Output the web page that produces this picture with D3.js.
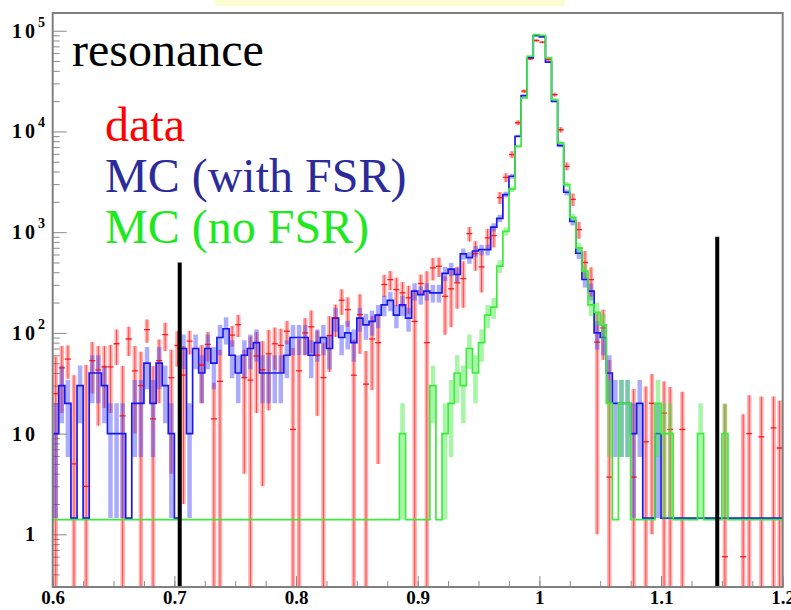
<!DOCTYPE html>
<html>
<head>
<meta charset="utf-8">
<script src="https://cdn.jsdelivr.net/npm/d3@7"></script>
<style>
body { margin: 0; background: #fff; }
svg { display: block; }
</style>
</head>
<body>
<div id="chart"></div>
<script>
// histogram binning: 120 bins of 0.005 from 0.6
const binStart = 0.6;
const binWidth = 0.005;

// MC with FSR (blue), events per bin
const mcFsr = [
  10, 30, 20, 0, 30, 0, 40, 40, 30, 10,
  10, 10, 0, 20, 20, 50, 20, 50, 30, 10,
  0, 70, 10, 70, 40, 70, 50, 90, 110, 60,
  40, 60, 70, 80, 40, 40, 40, 40, 60, 90,
  90, 90, 60, 80, 90, 70, 140, 90, 100, 80,
  140, 120, 130, 150, 190, 210, 150, 190, 140, 260,
  240, 260, 250, 250, 390, 430, 380, 610, 560, 650,
  670, 670, 1120, 1370, 2360, 3590, 8960, 22700, 53800, 89600,
  86900, 48700, 19900, 7240, 2490, 1280, 620, 340, 260, 100,
  90, 40, 20, 20, 20, 10, 20, 0, 0, 10,
  0, 0, 0, 0, 0, 0, 0, 0, 0, 0,
  0, 0, 0, 0, 0, 0, 0, 0, 0, 0
];

// MC without FSR (green)
const mcNoFsr = [
  0, 0, 0, 0, 0, 0, 0, 0, 0, 0,
  0, 0, 0, 0, 0, 0, 0, 0, 0, 0,
  0, 0, 0, 0, 0, 0, 0, 0, 0, 0,
  0, 0, 0, 0, 0, 0, 0, 0, 0, 0,
  0, 0, 0, 0, 0, 0, 0, 0, 0, 0,
  0, 0, 0, 0, 0, 0, 0, 10, 0, 0,
  0, 0, 30, 0, 10, 20, 40, 30, 70, 40,
  80, 150, 180, 460, 1020, 2670, 7130, 21500, 55800, 91600,
  90000, 53800, 20700, 7700, 2970, 1400, 700, 410, 190, 160,
  120, 20, 0, 20, 20, 0, 0, 0, 0, 20,
  10, 10, 0, 0, 0, 0, 10, 0, 0, 0,
  10, 0, 0, 0, 0, 0, 0, 0, 0, 0
];

// data (red), 0 = no entry
const dataValues = [
  25, 45, 55, 5, 0, 3, 53, 43, 46, 46,
  78, 15, 87, 42, 30, 108, 14, 53, 96, 36,
  75, 38, 83, 0, 48, 77, 14, 33, 0, 95,
  121, 36, 34, 59, 43, 62, 78, 75, 104, 11,
  42, 100, 115, 60, 36, 94, 141, 211, 170, 38,
  152, 31, 87, 80, 302, 338, 269, 250, 223, 130,
  309, 80, 442, 459, 231, 274, 314, 346, 968, 613,
  452, 878, 925, 2200, 3500, 5900, 12200, 25100, 52600, 80000,
  77000, 51800, 23200, 10400, 4510, 2120, 1060, 500, 338, 81,
  112, 3.7, 0, 0, 0, 3.7, 0, 8.3, 20, 0,
  16, 11, 0, 11, 0, 0, 0, 0, 0, 0,
  0.6, 0, 0, 0.6, 10, 0, 9.3, 0, 11.4, 7.2
];

const dataErrors = [
  33, 29, 20, 33, 0, 45, 28, 31, 28, 30,
  30, 32, 28, 32, 35, 28, 33, 33, 30, 32,
  29, 36, 22, 0, 28, 25, 18, 35, 0, 22,
  30, 32, 58, 43, 40, 45, 35, 35, 27, 60,
  45, 40, 52, 45, 44, 53, 50, 60, 55, 48,
  90, 35, 60, 75, 75, 73, 85, 70, 70, 140,
  70, 330, 110, 100, 135, 160, 140, 168, 160, 200,
  200, 200, 220, 300, 350, 450, 700, 1000, 1500, 1800,
  1800, 1500, 1000, 650, 400, 300, 200, 150, 110, 80,
  58, 50, 0, 0, 0, 24, 0, 21, 19, 0,
  17, 18, 0, 15, 0, 0, 0, 0, 0, 0,
  19, 0, 0, 15, 14, 0, 14, 0, 12, 14
];

// black selection cuts: position and top value
const cutPositions = [0.7044, 1.1462];
const cutTops = [500, 900];

const legendLabels = ['data', 'MC (with FSR)', 'MC (no FSR)'];
const legendColors = ['#ff0000', '#2b2b9c', '#1ee81e'];

const xTickValues = [0.6, 0.7, 0.8, 0.9, 1.0, 1.1, 1.2];
const xTickLabels = ['0.6', '0.7', '0.8', '0.9', '1', '1.1', '1.2'];
const yTickValues = [1, 10, 100, 1000, 10000, 100000];

const MC_WEIGHT = 10;
const FSR_FLOOR = 1.45;
const NOFSR_FLOOR = 1.4;
const NOFSR_BASE = 1.0;

const width = 791;
const height = 610;
const plot = { left: 52.7, right: 782.7, top: 13, bottom: 587 };

const x = d3.scaleLinear()
    .domain([0.6, 1.2])
    .range([plot.left, plot.right]);

const y = d3.scaleLog()
    .domain([0.3, 1.5e5])
    .range([plot.bottom, plot.top]);

const svg = d3.select('#chart')
    .append('svg')
    .attr('width', width)
    .attr('height', height);

// pale strip at the top of the slide
svg.append('rect')
    .attr('x', 215).attr('y', 0)
    .attr('width', 350).attr('height', 6)
    .attr('fill', '#fdfbd2');

svg.append('clipPath')
    .attr('id', 'plotclip')
    .append('rect')
    .attr('x', plot.left).attr('y', plot.top)
    .attr('width', plot.right - plot.left)
    .attr('height', plot.bottom - plot.top);

// axes (ticks pointing inward)
const minorY = [];
for (let d = -1; d <= 5; d++) {
    for (let k = 2; k <= 9; k++) {
        const v = k * Math.pow(10, d);
        if (v >= 0.3 && v <= 1.5e5) minorY.push(v);
    }
}

const styleTicks = (g) => {
    g.select('.domain').remove();
    g.selectAll('.tick line').attr('stroke', '#8a8a8a').attr('stroke-width', 1);
};

svg.append('g')
    .attr('transform', `translate(${plot.left},0)`)
    .call(d3.axisLeft(y).tickValues(minorY).tickSize(-7).tickFormat(''))
    .call(styleTicks);

svg.append('g')
    .attr('transform', `translate(${plot.left},0)`)
    .call(d3.axisLeft(y).tickValues(yTickValues).tickSize(-14).tickFormat(''))
    .call(styleTicks);

svg.append('g')
    .attr('transform', `translate(0,${plot.bottom})`)
    .call(d3.axisBottom(x).tickValues(d3.range(0, 25).map(i => 0.6 + i * 0.025)).tickSize(-6).tickFormat(''))
    .call(styleTicks);

const xAxis = svg.append('g')
    .attr('transform', `translate(0,${plot.bottom})`)
    .call(d3.axisBottom(x)
        .tickValues(xTickValues)
        .tickSize(-11)
        .tickPadding(4)
        .tickFormat((d, i) => xTickLabels[i]))
    .call(styleTicks);

xAxis.selectAll('text')
    .attr('fill', '#000')
    .style('font-family', '"Liberation Serif", "Times New Roman", serif')
    .style('font-weight', 'bold')
    .style('font-size', '19px');

// y labels: 1, 10, 10^2 ...
const yLabels = svg.append('g')
    .style('font-family', '"Liberation Serif", "Times New Roman", serif')
    .style('font-weight', 'bold')
    .attr('fill', '#000');

yTickValues.forEach((v) => {
    const e = Math.round(Math.log10(v));
    const t = yLabels.append('text')
        .attr('y', y(v) + 7)
        .style('font-size', '20px')
        .style('letter-spacing', '3px');
    if (e === 0) {
        t.attr('x', 25).text('1');
    } else if (e === 1) {
        t.attr('x', 12).text('10');
    } else {
        t.attr('x', 12).text('10');
        t.append('tspan')
            .attr('dx', 0)
            .attr('dy', -11)
            .style('font-size', '14px')
            .style('letter-spacing', '0px')
            .text(e);
    }
});

const chart = svg.append('g').attr('clip-path', 'url(#plotclip)');

const center = (i) => binStart + (i + 0.5) * binWidth;

// data error bars (red)
const dataIdx = d3.range(dataValues.length).filter(i => dataValues[i] > 0);

chart.append('g')
    .selectAll('line')
    .data(dataIdx)
    .enter()
        .append('line')
        .attr('x1', i => x(center(i)))
        .attr('x2', i => x(center(i)))
        .attr('y1', i => y(Math.max(dataValues[i] - dataErrors[i], 0.2)))
        .attr('y2', i => y(dataValues[i] + dataErrors[i]))
        .attr('stroke', 'rgba(255,50,50,0.38)')
        .attr('stroke-width', 4.5);

chart.append('g')
    .selectAll('line')
    .data(dataIdx)
    .enter()
        .append('line')
        .attr('x1', i => x(center(i)))
        .attr('x2', i => x(center(i)))
        .attr('y1', i => y(Math.max(dataValues[i] - dataErrors[i], 0.2)))
        .attr('y2', i => y(dataValues[i] + dataErrors[i]))
        .attr('stroke', 'rgba(255,0,0,0.6)')
        .attr('stroke-width', 1);

// MC histograms
const stepPoints = (values, floor, base) => {
    const pts = [[binStart, base]];
    values.forEach((v, i) => {
        const val = v > 0 ? v : floor;
        pts.push([binStart + i * binWidth, val]);
        pts.push([binStart + (i + 1) * binWidth, val]);
    });
    pts.push([binStart + values.length * binWidth, base]);
    return pts;
};

const line = d3.line()
    .x(d => x(d[0]))
    .y(d => y(d[1]));

const drawMc = (values, floor, base, band, stroke) => {
    const idx = d3.range(values.length).filter(i => values[i] > 0);
    const err = (v) => Math.sqrt(v * MC_WEIGHT);
    chart.append('g')
        .selectAll('line')
        .data(idx)
        .enter()
            .append('line')
            .attr('x1', i => x(center(i)))
            .attr('x2', i => x(center(i)))
            .attr('y1', i => y(Math.max(values[i] - err(values[i]), floor)))
            .attr('y2', i => y(values[i] + err(values[i])))
            .attr('stroke', band)
            .attr('stroke-width', 4.5);
    chart.append('path')
        .datum(stepPoints(values, floor, base))
        .attr('d', line)
        .attr('fill', 'none')
        .attr('stroke', stroke)
        .attr('stroke-width', 1.7);
};

drawMc(mcFsr, FSR_FLOOR, FSR_FLOOR, 'rgba(70,70,255,0.45)', '#1818ee');

// data markers
chart.append('g')
    .selectAll('line')
    .data(dataIdx)
    .enter()
        .append('line')
        .attr('x1', i => x(center(i) - binWidth / 2))
        .attr('x2', i => x(center(i) + binWidth / 2))
        .attr('y1', i => y(dataValues[i]))
        .attr('y2', i => y(dataValues[i]))
        .attr('stroke', 'rgba(255,0,0,0.85)')
        .attr('stroke-width', 1.3);

drawMc(mcNoFsr, NOFSR_FLOOR, NOFSR_BASE, 'rgba(60,235,60,0.45)', '#3cea3c');

// cut lines
svg.append('g')
    .selectAll('line')
    .data(cutPositions)
    .enter()
        .append('line')
        .attr('x1', d => x(d))
        .attr('x2', d => x(d))
        .attr('y1', (d, i) => y(cutTops[i]))
        .attr('y2', plot.bottom)
        .attr('stroke', '#000')
        .attr('stroke-width', 4);

// frame
svg.append('rect')
    .attr('x', plot.left).attr('y', plot.top)
    .attr('width', plot.right - plot.left)
    .attr('height', plot.bottom - plot.top)
    .attr('fill', 'none')
    .attr('stroke', '#808080')
    .attr('stroke-width', 2);

// legend texts
const legend = svg.append('g')
    .style('font-family', '"Liberation Serif", "Times New Roman", serif');

legend.append('text')
    .attr('x', 72).attr('y', 66)
    .style('font-size', '48px')
    .attr('fill', '#000')
    .text('resonance');

legend.selectAll('.entry')
    .data(legendLabels)
    .enter()
        .append('text')
        .attr('class', 'entry')
        .attr('x', 105)
        .attr('y', (d, i) => 141 + i * 51)
        .style('font-size', '48px')
        .attr('fill', (d, i) => legendColors[i])
        .text(d => d);
</script>
</body>
</html>
